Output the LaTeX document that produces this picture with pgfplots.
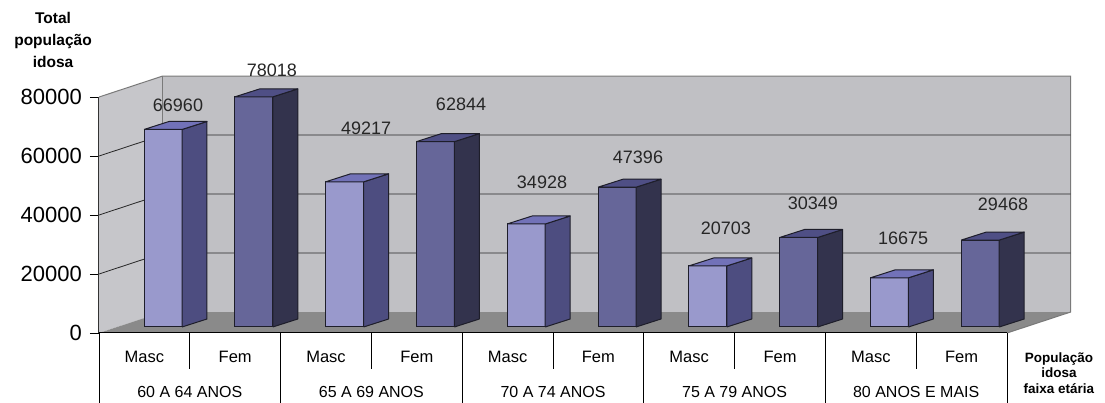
\documentclass[border=0pt]{standalone}
\usepackage{pgfplots}
\usepackage{pgfplotstable}
\pgfplotsset{compat=1.18}
\usepackage{fontspec}
\setmainfont{Liberation Sans}

\definecolor{mascF}{HTML}{9999CC}
\definecolor{mascS}{HTML}{4D4D80}
\definecolor{mascT}{HTML}{7272B8}
\definecolor{femF}{HTML}{666699}
\definecolor{femS}{HTML}{33334D}
\definecolor{femT}{HTML}{4F4F85}
\definecolor{wallc}{HTML}{C0C0C4}
\definecolor{leftwallc}{HTML}{C6C6CA}
\definecolor{floorc}{HTML}{8A8A8A}
\definecolor{barline}{HTML}{1E1E2A}
\definecolor{edgec}{HTML}{7A7A7A}

% unit faces of a 3D bar: x = dx + index, y = c + f*value
\pgfplotstableread{
dx c f
0.4956 2034 0
0.9141 2034 0
0.9141 2034 1
0.4956 2034 1
0.4956 2034 0
}\frontface
\pgfplotstableread{
dx c f
0.9141 2034 0
1.1894 4746 0
1.1894 4746 1
0.9141 2034 1
0.9141 2034 0
}\sideface
\pgfplotstableread{
dx c f
0.4956 2034 1
0.9141 2034 1
1.1894 4746 1
0.7709 4746 1
0.4956 2034 1
}\topface

% value labels (position and text)
\pgfplotstableread{
x y lab
0.870 77288 66960
1.905 89153 78018
2.941 69492 49217
3.987 77627 62844
4.879 51186 34928
5.936 59661 47396
6.905 35593 20703
7.863 44068 30349
8.855 32203 16675
9.956 43729 29468
}\labels

\newcommand\threedbar[5]{%
  \addplot[fill=#3, draw=barline, line width=1pt, line join=round]
    table[x expr=\thisrow{dx}+#1, y expr=\thisrow{c}+\thisrow{f}*#2] \frontface;
  \addplot[fill=#4, draw=barline, line width=1pt, line join=round]
    table[x expr=\thisrow{dx}+#1, y expr=\thisrow{c}+\thisrow{f}*#2] \sideface;
  \addplot[fill=#5, draw=barline, line width=1pt, line join=round]
    table[x expr=\thisrow{dx}+#1, y expr=\thisrow{c}+\thisrow{f}*#2] \topface;
}

\begin{document}
\begin{tikzpicture}
\begin{axis}[
  scale only axis,
  width=971.56pt, height=256.9pt,
  xmin=0, xmax=10.7, ymin=0, ymax=87100,
  clip=false,
  axis line style={draw=none},
  ytick={0,20000,40000,60000,80000},
  ytick pos=left, xtick pos=bottom,
  tick align=outside,
  major tick length=9pt,
  ytick style={black, line width=0.8pt},
  xtick style={draw=none},
  /pgf/number format/assume math mode=true,
  scaled y ticks=false,
  yticklabel style={font=\fontsize{22}{24}\selectfont, anchor=east, inner sep=0pt, xshift=-8pt},
  yticklabel={\pgfmathprintnumber[fixed, 1000 sep={}]{\tick}},
  xtick={0.5,1.5,2.5,3.5,4.5,5.5,6.5,7.5,8.5,9.5},
  xticklabels={Masc,Fem,Masc,Fem,Masc,Fem,Masc,Fem,Masc,Fem},
  xticklabel style={font=\fontsize{16.5}{18}\selectfont, anchor=center, yshift=-15pt},
  extra x ticks={1,3,5,7,9},
  extra x tick labels={60 A 64 ANOS,65 A 69 ANOS,70 A 74 ANOS,75 A 79 ANOS,80 ANOS E MAIS},
  extra x tick style={major tick length=0pt, xtick style={draw=none}, xticklabel style={font=\fontsize{16}{18}\selectfont, yshift=-44pt}},
  ylabel={Total\\população\\idosa},
  every axis y label/.style={at={(axis description cs:-0.0473,1.1405)}, anchor=center, align=center, font=\fontsize{15.5}{22}\selectfont\bfseries},
  xlabel={População\\idosa\\faixa etária},
  every axis x label/.style={at={(axis description cs:0.988,-0.1557)}, anchor=center, align=center, font=\fontsize{13.5}{15.5}\selectfont\bfseries},
]
% walls and floor
\addplot[fill=leftwallc, draw=none] coordinates {(0,0) (0.7,7100) (0.7,87100) (0,80000) (0,0)};
\addplot[fill=wallc, draw=none] coordinates {(0.7,7100) (10.7,7100) (10.7,87100) (0.7,87100) (0.7,7100)};
\addplot[fill=floorc, draw=none] coordinates {(0,0) (10,0) (10.7,7100) (0.7,7100) (0,0)};
% wall edges
\addplot[edgec, line width=1pt] coordinates {(0,80000) (0.7,87100) (10.7,87100) (10.7,7100) (10,0)};
\addplot[edgec, line width=1pt] coordinates {(0.7,7100) (0.7,87100)};
\addplot[black!80, line width=1pt] coordinates {(0,0) (0,80000)};
% gridlines on back and side walls
\addplot[black!85, line width=0.8pt] coordinates {(0,20000) (0.7,27100) (10.7,27100)};
\addplot[black!85, line width=0.8pt] coordinates {(0,40000) (0.7,47100) (10.7,47100)};
\addplot[black!85, line width=0.8pt] coordinates {(0,60000) (0.7,67100) (10.7,67100)};
% bars: index, value
\threedbar{0}{66960}{mascF}{mascS}{mascT}
\threedbar{1}{78018}{femF}{femS}{femT}
\threedbar{2}{49217}{mascF}{mascS}{mascT}
\threedbar{3}{62844}{femF}{femS}{femT}
\threedbar{4}{34928}{mascF}{mascS}{mascT}
\threedbar{5}{47396}{femF}{femS}{femT}
\threedbar{6}{20703}{mascF}{mascS}{mascT}
\threedbar{7}{30349}{femF}{femS}{femT}
\threedbar{8}{16675}{mascF}{mascS}{mascT}
\threedbar{9}{29468}{femF}{femS}{femT}
% value labels
\addplot[draw=none, mark=none, nodes near coords, point meta=explicit symbolic,
  every node near coord/.append style={anchor=center, font=\fontsize{18}{20}\selectfont, text=black!85}]
  table[x=x, y=y, meta=lab] \labels;
% category axis lines
\addplot[black, line width=1pt] coordinates {(0,0) (10,0)};
\addplot[black, line width=0.8pt] coordinates {(0,0) (0,-23729)};
\addplot[black, line width=0.8pt] coordinates {(2,0) (2,-23729)};
\addplot[black, line width=0.8pt] coordinates {(4,0) (4,-23729)};
\addplot[black, line width=0.8pt] coordinates {(6,0) (6,-23729)};
\addplot[black, line width=0.8pt] coordinates {(8,0) (8,-23729)};
\addplot[black, line width=0.8pt] coordinates {(10,0) (10,-23729)};
\addplot[black, line width=0.8pt] coordinates {(1,0) (1,-12203)};
\addplot[black, line width=0.8pt] coordinates {(3,0) (3,-12203)};
\addplot[black, line width=0.8pt] coordinates {(5,0) (5,-12203)};
\addplot[black, line width=0.8pt] coordinates {(7,0) (7,-12203)};
\addplot[black, line width=0.8pt] coordinates {(9,0) (9,-12203)};
\end{axis}
\pgfresetboundingbox
\path[use as bounding box] (-99pt,-70pt) rectangle (1006pt,333pt);
\end{tikzpicture}
\end{document}
